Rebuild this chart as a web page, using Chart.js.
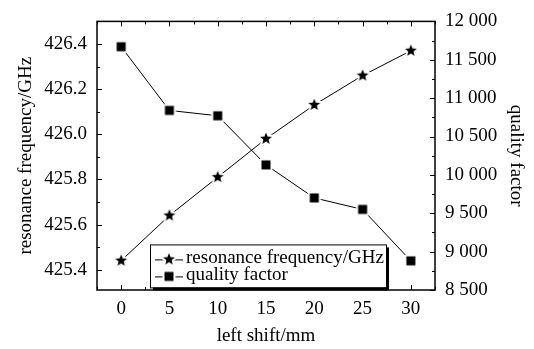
<!DOCTYPE html>
<html>
<head>
<meta charset="utf-8">
<script src="https://cdn.jsdelivr.net/npm/chart.js@4.4.1/dist/chart.umd.min.js"></script>
<style>
  html, body { margin: 0; padding: 0; background: #fff; }
</style>
</head>
<body>
<canvas id="chart" width="534" height="349"></canvas>
<script>
const shifts = [0, 5, 10, 15, 20, 25, 30];
const freqGHz = [425.44, 425.64, 425.81, 425.98, 426.13, 426.26, 426.37];
const qFactor = [11670, 10840, 10770, 10130, 9700, 9550, 8880];
const xTicks = [0, 5, 10, 15, 20, 25, 30];
const freqTicks = [425.4, 425.6, 425.8, 426.0, 426.2, 426.4];
const qTicks = [8500, 9000, 9500, 10000, 10500, 11000, 11500, 12000];

const FONT = { family: "'Liberation Serif', 'Times New Roman', serif", size: 19 };

// filled marker with a white halo, so the line stops short of it
function makeMarker(kind) {
  const c = document.createElement("canvas");
  c.width = c.height = 18;
  const g = c.getContext("2d");
  g.translate(9, 9);
  g.beginPath();
  if (kind === "star") {
    for (let i = 0; i < 10; i++) {
      const r = i % 2 ? 2.7 : 6.3;
      const a = -Math.PI / 2 + (i * Math.PI) / 5;
      g.lineTo(r * Math.cos(a), r * Math.sin(a));
    }
    g.closePath();
  } else {
    g.rect(-4.5, -4.5, 9, 9);
  }
  g.lineJoin = "round";
  g.lineWidth = 4;
  g.strokeStyle = "#fff";
  g.stroke();
  g.fillStyle = "#000";
  g.fill();
  return c;
}
const starImg = makeMarker("star");
const squareImg = makeMarker("square");

const fixTicks = (list) => (scale) => {
  scale.ticks = list.map((v) => ({ value: v }));
};

// box frame with inward major/minor ticks on all four sides
const framePlugin = {
  id: "frame",
  beforeDatasetsDraw(chart) {
    const { ctx, chartArea: a } = chart;
    const sx = chart.scales.x, sy = chart.scales.y, sq = chart.scales.y1;
    ctx.save();
    ctx.strokeStyle = "#000";
    ctx.lineWidth = 1;
    ctx.beginPath();
    for (let k = -1; k <= 13; k++) {
      const v = k * 2.5;
      if (v < sx.min || v > sx.max) continue;
      const px = Math.round(sx.getPixelForValue(v)) + 0.5;
      const len = k % 2 === 0 ? 5 : 3;
      ctx.moveTo(px, a.bottom); ctx.lineTo(px, a.bottom - len);
      ctx.moveTo(px, a.top); ctx.lineTo(px, a.top + len);
    }
    for (let k = -1; k <= 11; k++) {
      const v = 425.4 + k * 0.1;
      if (v < sy.min || v > sy.max) continue;
      const py = Math.round(sy.getPixelForValue(v)) + 0.5;
      const len = k % 2 === 0 ? 5 : 3;
      ctx.moveTo(a.left, py); ctx.lineTo(a.left + len, py);
    }
    for (let k = 0; k <= 14; k++) {
      const v = 8500 + k * 250;
      const py = Math.round(sq.getPixelForValue(v)) + 0.5;
      const len = k % 2 === 0 ? 5 : 3;
      ctx.moveTo(a.right, py); ctx.lineTo(a.right - len, py);
    }
    ctx.stroke();
    ctx.lineWidth = 1.5;
    ctx.strokeRect(a.left, a.top, a.right - a.left, a.bottom - a.top);
    ctx.restore();
  },
};

// legend box with drop shadow inside the plot
const legendPlugin = {
  id: "boxLegend",
  afterDraw(chart) {
    const { ctx, chartArea: a } = chart;
    const bx = a.left + 53, by = a.top + 223, bw = 236, bh = 43;
    ctx.save();
    ctx.fillStyle = "#000";
    ctx.fillRect(bx + 3, by + 3, bw, bh);
    ctx.fillStyle = "#fff";
    ctx.fillRect(bx, by, bw, bh);
    ctx.strokeStyle = "#000";
    ctx.lineWidth = 1;
    ctx.strokeRect(bx + 0.5, by + 0.5, bw, bh);
    ctx.font = `${FONT.size}px ${FONT.family}`;
    ctx.textBaseline = "alphabetic";
    const rows = [by + 15, by + 32];
    chart.data.datasets.forEach((ds, i) => {
      const cy = rows[i];
      ctx.beginPath();
      ctx.moveTo(bx + 5, cy + 0.5);
      ctx.lineTo(bx + 33, cy + 0.5);
      ctx.stroke();
      ctx.drawImage(ds.pointStyle, bx + 19 - 9, cy - 9);
      ctx.fillStyle = "#000";
      ctx.fillText(ds.label, bx + 36, cy + 4);
    });
    ctx.restore();
  },
};

new Chart(document.getElementById("chart"), {
  type: "line",
  data: {
    datasets: [
      {
        label: "resonance frequency/GHz",
        data: shifts.map((x, i) => ({ x, y: freqGHz[i] })),
        yAxisID: "y",
        borderColor: "#000",
        borderWidth: 1,
        pointStyle: starImg,
        pointRadius: 6,
      },
      {
        label: "quality factor",
        data: shifts.map((x, i) => ({ x, y: qFactor[i] })),
        yAxisID: "y1",
        borderColor: "#000",
        borderWidth: 1,
        pointStyle: squareImg,
        pointRadius: 6,
      },
    ],
  },
  options: {
    responsive: false,
    animation: false,
    devicePixelRatio: 1,
    layout: { padding: { top: 14, left: 0, right: 0, bottom: 0 } },
    plugins: { legend: { display: false }, tooltip: { enabled: false } },
    scales: {
      x: {
        type: "linear",
        min: -2.5,
        max: 32.5,
        afterBuildTicks: fixTicks(xTicks),
        afterFit: (s) => { s.height = 59; },
        ticks: { font: FONT, color: "#000", padding: 8, maxRotation: 0, autoSkip: false },
        grid: { display: false, drawTicks: false },
        border: { display: false },
        title: { display: true, text: "left shift/mm", font: FONT, color: "#000", padding: { top: 0, bottom: 2 } },
      },
      y: {
        position: "left",
        min: 425.31,
        max: 426.5,
        afterBuildTicks: fixTicks(freqTicks),
        afterFit: (s) => { s.width = 97; },
        ticks: { font: FONT, color: "#000", padding: 10, callback: (v) => v.toFixed(1) },
        grid: { display: false, drawTicks: false },
        border: { display: false },
        title: { display: true, text: "resonance frequency/GHz", font: FONT, color: "#000", padding: { top: 15, bottom: 0 } },
      },
      y1: {
        position: "right",
        min: 8500,
        max: 12000,
        afterBuildTicks: fixTicks(qTicks),
        afterFit: (s) => { s.width = 99; },
        ticks: {
          font: FONT,
          color: "#000",
          padding: 10,
          callback: (v) => String(v).replace(/\B(?=(\d{3})+(?!\d))/g, " "),
        },
        grid: { display: false, drawTicks: false },
        border: { display: false },
        title: { display: true, text: "quality factor", font: FONT, color: "#000", padding: { top: 7, bottom: 0 } },
      },
    },
  },
  plugins: [framePlugin, legendPlugin],
});
</script>
</body>
</html>
